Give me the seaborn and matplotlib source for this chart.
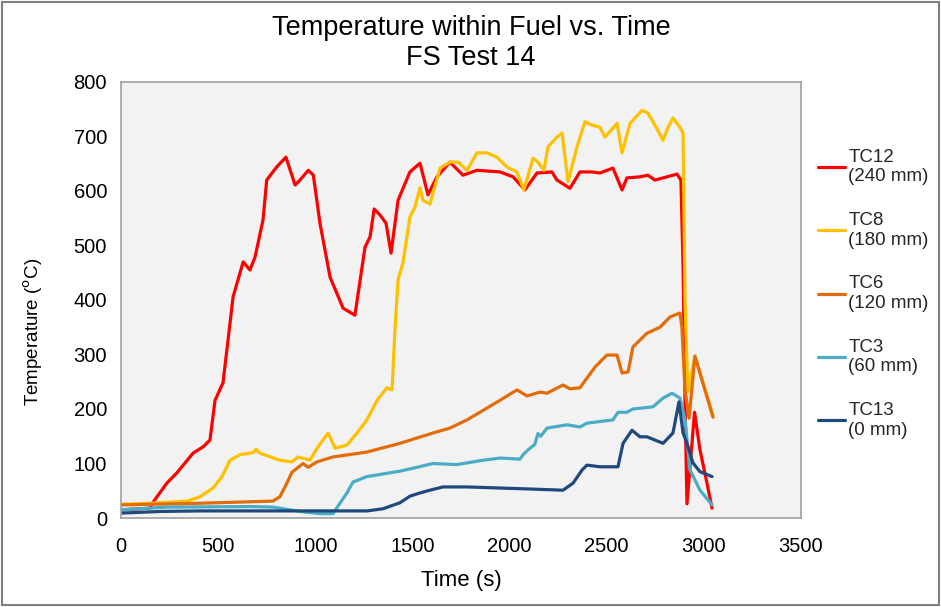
import numpy as np
import pandas as pd
import matplotlib
matplotlib.use("Agg")
import matplotlib.pyplot as plt
import seaborn as sns
from matplotlib.patches import Rectangle

# ---- data ----
series_names = ["TC12\n(240 mm)", "TC8\n(180 mm)", "TC6\n(120 mm)", "TC3\n(60 mm)", "TC13\n(0 mm)"]
series_colors = ["#FF0000", "#FFC000", "#E36C09", "#4BACC6", "#1F497D"]

t_tc12 = [0, 150, 165, 236, 288, 371, 424, 458, 484, 525, 577, 629, 664, 690, 731, 750, 801, 849, 896, 921,
          964, 990, 1024, 1076, 1143, 1204, 1256, 1282, 1303, 1333, 1364, 1390, 1426, 1487, 1539, 1580, 1626,
          1693, 1760, 1832, 1951, 2018, 2079, 2141, 2218, 2244, 2311, 2362, 2424, 2465, 2532, 2579, 2604,
          2671, 2712, 2748, 2810, 2862, 2882, 2893, 2903, 2913, 2929, 2952, 2980, 3016, 3042]
T_tc12 = [15, 18, 29, 64, 83, 119, 131, 143, 216, 248, 406, 470, 455, 479, 547, 620, 644, 662, 611, 620,
          638, 629, 541, 442, 385, 372, 497, 516, 567, 556, 541, 486, 583, 635, 651, 593, 626,
          653, 629, 638, 635, 626, 602, 633, 635, 620, 605, 635, 635, 633, 642, 602, 624,
          626, 629, 620, 626, 631, 620, 461, 217, 26, 94, 194, 125, 64, 18]

t_tc8 = [0, 150, 339, 407, 474, 520, 561, 612, 679, 695, 715, 818, 880, 911, 973, 1009, 1066, 1102, 1163,
         1215, 1266, 1318, 1369, 1395, 1410, 1426, 1451, 1487, 1513, 1539, 1554, 1590, 1642, 1693, 1735,
         1781, 1832, 1884, 1935, 1987, 2038, 2074, 2121, 2146, 2177, 2198, 2244, 2270, 2301, 2347, 2388,
         2424, 2465, 2491, 2553, 2579, 2620, 2682, 2712, 2748, 2790, 2810, 2841, 2877, 2893, 2903, 2918,
         2954, 3047]
T_tc8 = [25, 27, 31, 39, 55, 76, 106, 116, 120, 126, 119, 106, 103, 112, 106, 128, 156, 128, 134,
         156, 180, 216, 239, 235, 345, 437, 468, 552, 571, 606, 583, 576, 642, 653, 653,
         638, 670, 670, 662, 644, 635, 602, 660, 653, 638, 681, 699, 706, 617, 681, 727,
         721, 717, 699, 724, 670, 724, 748, 743, 721, 693, 712, 734, 717, 706, 400, 231,
         297, 188]

t_tc6 = [0, 400, 782, 818, 854, 880, 937, 963, 1009, 1091, 1266, 1436, 1606, 1693, 1781, 1951, 2038, 2090,
         2157, 2193, 2275, 2311, 2362, 2440, 2501, 2553, 2579, 2610, 2635, 2707, 2774, 2826, 2877, 2887,
         2903, 2924, 2954, 3047]
T_tc6 = [24, 27, 31, 39, 64, 84, 100, 93, 103, 112, 121, 137, 156, 165, 180, 216, 235, 224,
         231, 229, 244, 237, 239, 277, 299, 299, 266, 268, 314, 339, 350, 369, 376, 350,
         235, 183, 297, 185]

t_tc3 = [0, 236, 664, 782, 921, 1024, 1091, 1127, 1163, 1194, 1230, 1266, 1318, 1436, 1523, 1606, 1729,
         1863, 1951, 2054, 2069, 2095, 2130, 2146, 2160, 2193, 2296, 2362, 2398, 2532, 2558, 2604, 2635,
         2738, 2790, 2836, 2877, 2903, 2929, 2980, 3042]
T_tc3 = [15, 20, 21, 20, 12, 8, 8, 27, 46, 66, 71, 76, 79, 86, 93, 100, 98,
         106, 110, 108, 116, 125, 135, 155, 150, 165, 171, 167, 174, 180, 194, 194, 200,
         204, 220, 229, 220, 180, 88, 51, 24]

t_tc13 = [0, 200, 407, 1266, 1349, 1436, 1487, 1539, 1590, 1657, 1781, 1951, 2121, 2275, 2327, 2373, 2398,
          2465, 2558, 2584, 2630, 2671, 2707, 2790, 2841, 2872, 2893, 2913, 2944, 2980, 3042]
T_tc13 = [9, 12, 13, 13, 17, 28, 40, 46, 51, 57, 57, 55, 53, 51, 64, 88, 97,
          94, 94, 137, 161, 149, 149, 137, 156, 213, 156, 137, 101, 85, 76]

x_ticks = [0, 500, 1000, 1500, 2000, 2500, 3000, 3500]
y_ticks = [0, 100, 200, 300, 400, 500, 600, 700, 800]

# ---- build long-form table ----
times = [t_tc12, t_tc8, t_tc6, t_tc3, t_tc13]
temps = [T_tc12, T_tc8, T_tc6, T_tc3, T_tc13]
frames = []
for name, t, T in zip(series_names, times, temps):
    frames.append(pd.DataFrame({"Time": t, "Temp": T, "Series": name}))
df = pd.concat(frames, ignore_index=True)

sns.set_theme(style="white")
plt.rcParams["font.family"] = ["Liberation Sans", "DejaVu Sans"]

fig = plt.figure(figsize=(9.41, 6.07), dpi=100)
ax = fig.add_axes([121 / 941, 1 - 518 / 607, 680 / 941, (518 - 82) / 607])
ax.set_facecolor("#F2F2F2")

sns.lineplot(data=df, x="Time", y="Temp", hue="Series", hue_order=series_names,
             palette=series_colors, estimator=None, sort=False, linewidth=2.3, ax=ax)

ax.set_xlim(0, 3500)
ax.set_ylim(0, 800)
ax.set_xticks(x_ticks)
ax.set_yticks(y_ticks)
ax.tick_params(axis="both", which="major", direction="out", length=5, width=1,
               color="#A0A0A0", labelsize=14.5, labelcolor="black", pad=5)
ax.tick_params(axis="x", pad=9)
for s in ax.spines.values():
    s.set_color("#A0A0A0")
    s.set_linewidth(1.2)

ax.set_xlabel("Time (s)", fontsize=16, color="black")
ax.xaxis.set_label_coords(0.50, -0.12)
ax.set_ylabel(r"Temperature ($^{\mathrm{o}}$C)", fontsize=13.5, color="black")
ax.yaxis.set_label_coords(-0.112, 0.427)

fig.suptitle("Temperature within Fuel vs. Time\nFS Test 14", fontsize=19.5, x=471 / 941,
             y=1 - 15 / 607, va="top", linespacing=1.2, color="black")

leg = ax.legend(loc="upper left", bbox_to_anchor=(810 / 941, 1 - 141 / 607),
                bbox_transform=fig.transFigure, frameon=False, fontsize=13.5,
                handlelength=1.45, handletextpad=0.2, labelspacing=1.43, borderaxespad=0)
for line in leg.get_lines():
    line.set_linewidth(2.3)

fig.patches.append(Rectangle((0.002, 0.003), 0.996, 0.994, transform=fig.transFigure,
                             fill=False, edgecolor="#808080", linewidth=1.5))

fig.savefig("out.png", dpi=100)
